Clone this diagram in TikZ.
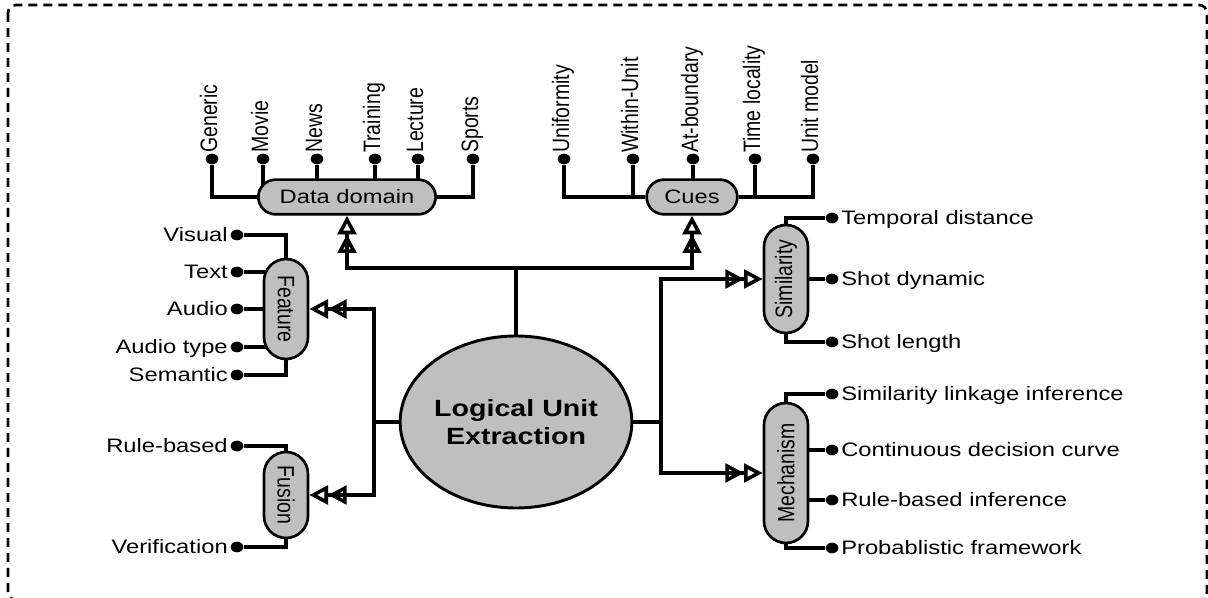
\documentclass[tikz,border=0pt]{standalone}
\usepackage{fontspec}
\usepackage{graphicx}
\usepackage{tikz}
\usetikzlibrary{arrows.meta, shapes.geometric, backgrounds}

\setmainfont{Liberation Sans}
\newfontfamily\widefont[FakeStretch=1.22]{Liberation Sans}
\newcommand\leaffont{\widefont\fontsize{14.6pt}{17pt}\selectfont}
\newcommand\sidefont{\fontsize{14.6pt}{17pt}\selectfont}
\newcommand\tall[1]{\scalebox{1}[1.22]{#1}}

\begin{document}
\begin{tikzpicture}[
    x=0.75pt, y=-0.75pt,
    pill/.style={draw, line width=2pt, fill=gray!50, inner sep=0pt},
    hpill/.style={pill, rounded corners=13pt, minimum height=26pt, font=\leaffont},
    vpill/.style={pill, rounded corners=16.5pt, minimum height=33pt, font=\sidefont},
    core/.style={ellipse, draw, line width=2.2pt, fill=gray!50, inner sep=0pt,
      minimum width=163.5pt, minimum height=129pt, align=center,
      font=\widefont\bfseries\fontsize{17.6pt}{21pt}\selectfont},
    dot/.style={ellipse, fill, inner sep=0pt, minimum width=9.5pt, minimum height=8pt},
    leaf/.style={font=\leaffont, inner sep=0pt},
    upleaf/.style={font=\sidefont, inner sep=0pt, rotate=90, anchor=base west},
    twig/.style={line width=2.5pt},
    trunk/.style={line width=2.7pt},
    dar/.style={trunk, -{Triangle[open,length=14pt,width=14pt]Triangle[open,length=14pt,width=14pt]}},
  ]
    \useasboundingbox (0,0) rectangle (1208,598);
    \draw[line width=2pt, dash pattern=on 6.75pt off 4.5pt, rounded corners=6pt]
      (8,5) rectangle (1207,600);

    % Centre and category pills
    \node[core]  (lue)  at (516,422) {Logical Unit\\Extraction};
    \node[hpill, minimum width=133pt] (dd)  at (347,197) {Data domain};
    \node[hpill, minimum width=68pt]  (cue) at (692,197) {Cues};
    \node[vpill, rotate=-90, minimum width=75pt]   (fe)   at (286,309) {\tall{Feature}};
    \node[vpill, rotate=-90, minimum width=64.5pt] (fu)   at (286,495) {\tall{Fusion}};
    \node[vpill, rotate=90,  minimum width=81pt]   (sim)  at (786,279) {\tall{Similarity}};
    \node[vpill, rotate=90,  minimum width=105pt]  (mech) at (786,473) {\tall{Mechanism}};

    % Data domain leaves
    \node[dot] (gen) at (212,159) {};
    \node[dot] (mov) at (263,159) {};
    \node[dot] (nws) at (317,159) {};
    \node[dot] (trn) at (375,159) {};
    \node[dot] (lec) at (418,159) {};
    \node[dot] (spo) at (473,159) {};
    \node[upleaf] (tgen) at (217,153) {\tall{Generic}};
    \node[upleaf] (tmov) at (268,153) {\tall{Movie}};
    \node[upleaf] (tnws) at (322,153) {\tall{News}};
    \node[upleaf] (ttrn) at (380,153) {\tall{Training}};
    \node[upleaf] (tlec) at (423,153) {\tall{Lecture}};
    \node[upleaf] (tspo) at (478,153) {\tall{Sports}};

    % Cues leaves
    \node[dot] (uni) at (564,159) {};
    \node[dot] (win) at (633,159) {};
    \node[dot] (atb) at (693,159) {};
    \node[dot] (tlo) at (755,159) {};
    \node[dot] (umo) at (813,159) {};
    \node[upleaf] (tuni) at (569,153) {\tall{Uniformity}};
    \node[upleaf] (twin) at (638,153) {\tall{Within-Unit}};
    \node[upleaf] (tatb) at (698,153) {\tall{At-boundary}};
    \node[upleaf] (ttlo) at (760,153) {\tall{Time locality}};
    \node[upleaf] (tumo) at (818,153) {\tall{Unit model}};

    % Feature and fusion leaves
    \node[dot] (vis) at (237,235) {};
    \node[dot] (txt) at (237,272) {};
    \node[dot] (aud) at (237,309) {};
    \node[dot] (aty) at (237,347) {};
    \node[dot] (sem) at (237,375) {};
    \node[dot] (rb)  at (237,446) {};
    \node[dot] (ver) at (237,547) {};
    \node[leaf, anchor=base east] (tvis) at (228,242) {Visual};
    \node[leaf, anchor=base east] (ttxt) at (228,279) {Text};
    \node[leaf, anchor=base east] (taud) at (228,316) {Audio};
    \node[leaf, anchor=base east] (taty) at (228,354) {Audio type};
    \node[leaf, anchor=base east] (tsem) at (228,382) {Semantic};
    \node[leaf, anchor=base east] (trb)  at (228,453) {Rule-based};
    \node[leaf, anchor=base east] (tver) at (228,554) {Verification};

    % Similarity and mechanism leaves
    \node[dot] (tmp) at (832,218) {};
    \node[dot] (sdy) at (832,279) {};
    \node[dot] (sle) at (832,342) {};
    \node[dot] (sli) at (832,394) {};
    \node[dot] (cdc) at (832,450) {};
    \node[dot] (rbi) at (832,500) {};
    \node[dot] (pfw) at (832,548) {};
    \node[leaf, anchor=base west] (ttmp) at (841,225) {Temporal distance};
    \node[leaf, anchor=base west] (tsdy) at (841,286) {Shot dynamic};
    \node[leaf, anchor=base west] (tsle) at (841,349) {Shot length};
    \node[leaf, anchor=base west] (tsli) at (841,401) {Similarity linkage inference};
    \node[leaf, anchor=base west] (tcdc) at (841,457) {Continuous decision curve};
    \node[leaf, anchor=base west] (trbi) at (841,507) {Rule-based inference};
    \node[leaf, anchor=base west] (tpfw) at (841,555) {Probablistic framework};

    % Leaf lines, kept under the pills
    \begin{scope}[on background layer]
      \draw[twig] (dd) -| (gen);
      \draw[twig] (mov) -- (mov |- dd);
      \draw[twig] (nws) -- (nws |- dd);
      \draw[twig] (trn) -- (trn |- dd);
      \draw[twig] (lec) -- (lec |- dd);
      \draw[twig] (dd) -| (spo);
      \draw[twig] (cue) -| (uni);
      \draw[twig] (win) -- (win |- cue);
      \draw[twig] (atb) -- (atb |- cue);
      \draw[twig] (tlo) -- (tlo |- cue);
      \draw[twig] (cue) -| (umo);
      \draw[twig] (fe) |- (vis);
      \draw[twig] (txt -| fe) -- (txt);
      \draw[twig] (aud -| fe) -- (aud);
      \draw[twig] (aty -| fe) -- (aty);
      \draw[twig] (fe) |- (sem);
      \draw[twig] (fu) |- (rb);
      \draw[twig] (fu) |- (ver);
      \draw[twig] (sim) |- (tmp);
      \draw[twig] (sdy -| sim) -- (sdy);
      \draw[twig] (sim) |- (sle);
      \draw[twig] (mech) |- (sli);
      \draw[twig] (cdc -| mech) -- (cdc);
      \draw[twig] (rbi -| mech) -- (rbi);
      \draw[twig] (mech) |- (pfw);
    \end{scope}

    % Trunk connectors
    \coordinate (hub) at (516,268);
    \coordinate (lj)  at (374,422);
    \coordinate (rj)  at (661,422);
    \draw[trunk] (lue) -- (hub);
    \draw[dar] (hub) -| (dd);
    \draw[dar] (hub) -| (cue);
    \draw[trunk] (lue) -- (lj);
    \draw[dar] (lj) |- (fe);
    \draw[dar] (lj) |- (fu);
    \draw[trunk] (lue) -- (rj);
    \draw[dar] (rj) |- (sim);
    \draw[dar] (rj) |- (mech);
  \end{tikzpicture}
\end{document}
